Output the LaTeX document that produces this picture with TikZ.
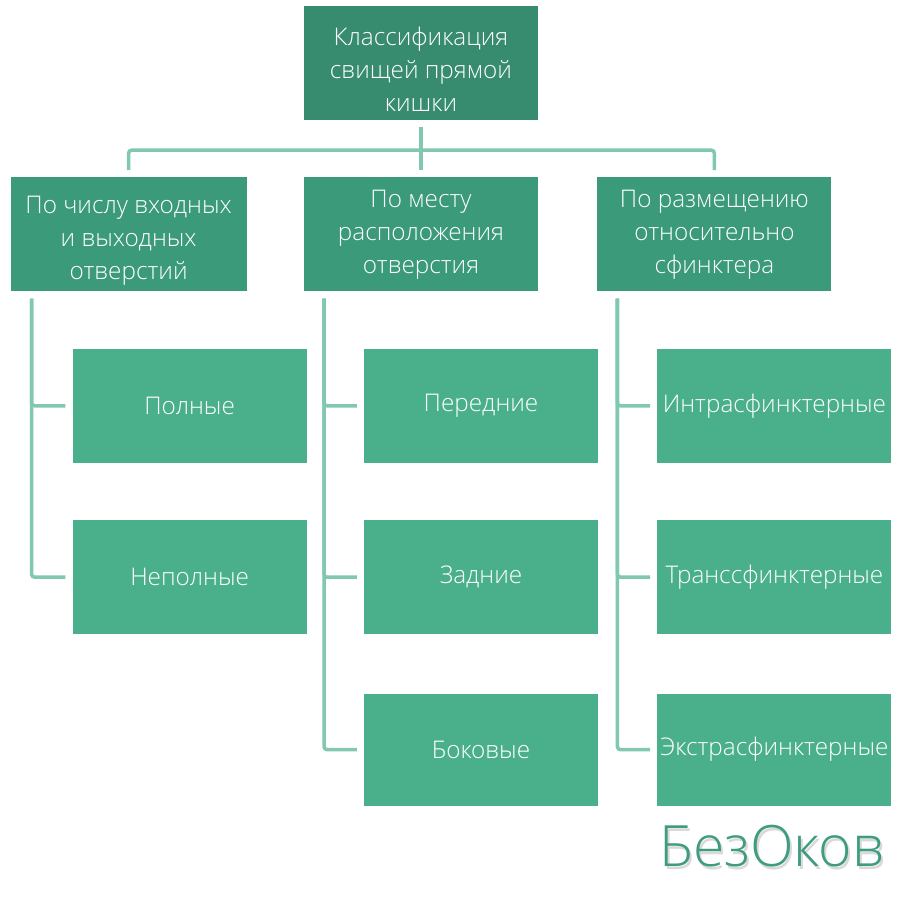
\documentclass[tikz,border=0pt]{standalone}
\usepackage{fontspec}
\setmainfont{Open Sans Light}
\usetikzlibrary{positioning}

\definecolor{rootgreen}{HTML}{378C6F}
\definecolor{groupgreen}{HTML}{3A9A7A}
\definecolor{itemgreen}{HTML}{4AB08C}
\definecolor{linkgreen}{HTML}{80C8AF}
\definecolor{markgreen}{HTML}{3F9C80}

\begin{document}
\begin{tikzpicture}[
            box/.style={text=white, align=center, font=\fontsize{24.3}{33}\selectfont, inner sep=0pt, minimum width=234pt, minimum height=114pt},
            rootbox/.style={box, fill=rootgreen},
            groupbox/.style={box, fill=groupgreen},
            itembox/.style={box, fill=itemgreen},
            link/.style={draw=linkgreen, line width=3.5pt, rounded corners=3pt, shorten <=7pt, shorten >=7pt},
            markstyle/.style={font=\fontsize{57}{57}\selectfont, inner sep=0pt}
        ]
            \useasboundingbox (0,0) rectangle (900pt,-900pt);

            \node [rootbox] (root) at (421pt,-63pt) {\rule{0pt}{31pt}Классификация\\свищей прямой\\кишки};
            \node [below=57pt of root, groupbox] (place) {По месту\\расположения\\отверстия};
            \node [left=57pt of place, groupbox, minimum width=236pt] (count) {\rule{0pt}{31pt}По числу входных\\и выходных\\отверстий};
            \node [right=59pt of place, groupbox] (sphincter) {По размещению\\относительно\\сфинктера};

            \node [below=57pt of count, xshift=61pt, itembox] (full) {Полные};
            \node [below=57pt of full, itembox] (partial) {Неполные};

            \node [below=57pt of place, xshift=60pt, itembox] (front) {Передние};
            \node [below=57pt of front, itembox] (back) {Задние};
            \node [below=59pt of back, itembox, minimum height=112pt] (side) {Боковые};

            \node [below=57pt of sphincter, xshift=60pt, itembox] (intra) {Интрасфинктерные};
            \node [below=57pt of intra, itembox] (trans) {Транссфинктерные};
            \node [below=59pt of trans, itembox, minimum height=112pt] (extra) {Экстрасфинктерные};

            \coordinate [below left=0pt and 97pt of count.south] (counttrunk);
            \coordinate [below left=0pt and 97pt of place.south] (placetrunk);
            \coordinate [below left=0pt and 97pt of sphincter.south] (sphinctertrunk);

            \draw [link] (root.south) -- (place.north);
            \draw [link] (count.north) -- ++(0,27pt) -| (sphincter.north);

            \foreach \item in {full, partial}
                \draw [link] (counttrunk) |- (\item.west);
            \foreach \item in {front, back, side}
                \draw [link] (placetrunk) |- (\item.west);
            \foreach \item in {intra, trans, extra}
                \draw [link] (sphinctertrunk) |- (\item.west);

            \node [markstyle, text=gray!30] (markshadow) at (774pt,-849pt) {БезОков};
            \node [markstyle, text=markgreen] (mark) at (772pt,-846pt) {БезОков};
        \end{tikzpicture}
\end{document}
